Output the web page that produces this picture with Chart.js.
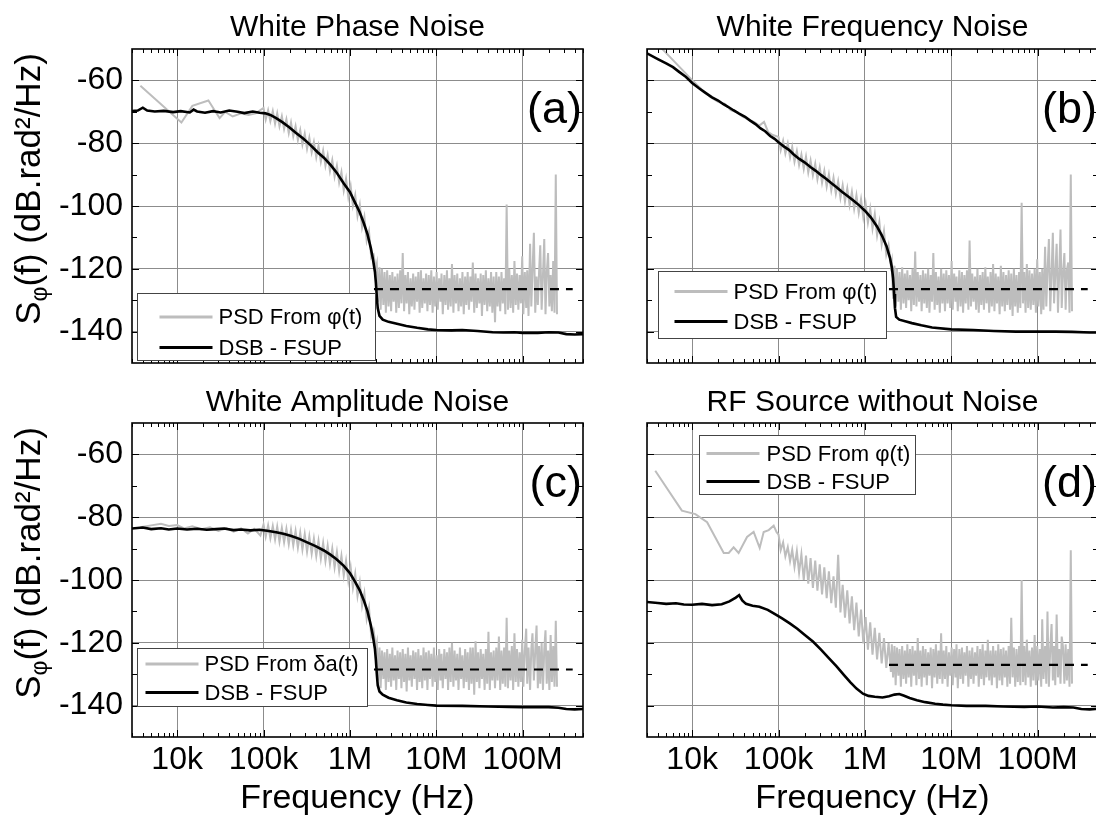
<!DOCTYPE html>
<html><head><meta charset="utf-8">
<script src="https://cdn.jsdelivr.net/npm/chart.js@4.4.1/dist/chart.umd.min.js"></script>
<style>
html,body{margin:0;padding:0;background:#fff;overflow:hidden;}
#wrap{position:relative;width:1096px;height:818px;overflow:hidden;background:#fff;}
canvas{position:absolute;display:block;}
</style></head><body>
<div id="wrap">
<canvas id="pa" width="600" height="380" style="left:0;top:0"></canvas>
<canvas id="pb" width="500" height="380" style="left:600px;top:0"></canvas>
<canvas id="pc" width="600" height="438" style="left:0;top:380px"></canvas>
<canvas id="pd" width="500" height="438" style="left:600px;top:380px"></canvas>
</div>
<script>
const FONT = '"Liberation Sans", Arial, Helvetica, sans-serif';
Chart.defaults.font.family = FONT;
Chart.defaults.color = '#000';

// ---- axes ----
const X_MIN = 3000, X_MAX = 5e8, Y_MIN = -150, Y_MAX = -50;
const xTickValues = [1e4, 1e5, 1e6, 1e7, 1e8];
const xTickLabels = ['10k', '100k', '1M', '10M', '100M'];
const yTickValues = [-140, -120, -100, -80, -60];
const yTickLabels = ['-140', '-120', '-100', '-80', '-60'];
const yTickMarks = [-140, -130, -120, -110, -100, -90, -80, -70, -60];
const xAxisTitle = 'Frequency (Hz)';
const panelTitles = ['White Phase Noise', 'White Frequency Noise', 'White Amplitude Noise', 'RF Source without Noise'];
const panelTags = ['(a)', '(b)', '(c)', '(d)'];
const legendPsd = ['PSD From φ(t)', 'PSD From φ(t)', 'PSD From δa(t)', 'PSD From φ(t)'];
const legendDsb = 'DSB - FSUP';

// ---- PSD sample grids ----
const midKHz = [100, 106, 113, 120, 128, 136, 144, 153, 163, 173,
  184, 196, 208, 221, 235, 250, 266, 282, 300, 319,
  339, 361, 383, 408, 433, 461, 490, 521, 553, 588,
  625, 665, 707, 751, 798, 849, 902, 959, 1020, 1084,
  1152, 1225, 1302, 1384, 1471, 1564, 1663, 1768, 1880, 2000];
const floorMHz = [2.05, 2.12, 2.2, 2.27, 2.35, 2.44, 2.52, 2.61, 2.7, 2.8,
  2.9, 3.0, 3.1, 3.21, 3.33, 3.44, 3.56, 3.69, 3.82, 3.95,
  4.09, 4.24, 4.39, 4.54, 4.7, 4.87, 5.04, 5.21, 5.4, 5.59,
  5.78, 5.99, 6.2, 6.42, 6.64, 6.88, 7.12, 7.37, 7.63, 7.9,
  8.18, 8.46, 8.76, 9.07, 9.39, 9.72, 10.1, 10.4, 10.8, 11.2,
  11.5, 11.9, 12.4, 12.8, 13.3, 13.7, 14.2, 14.7, 15.2, 15.8,
  16.3, 16.9, 17.5, 18.1, 18.8, 19.4, 20.1, 20.8, 21.6, 22.3,
  23.1, 23.9, 24.8, 25.6, 26.5, 27.5, 28.5, 29.5, 30.5, 31.6,
  32.7, 33.8, 35.0, 36.3, 37.5, 38.9, 40.2, 41.7, 43.1, 44.6,
  46.2, 47.9, 49.5, 51.3, 53.1, 55.0, 56.9, 58.9, 61.0, 63.1,
  65.3, 67.6, 70.0, 72.5, 75.0, 77.7, 80.4, 83.2, 86.1, 89.2,
  92.3, 95.5, 98.9, 102, 106, 110, 113, 117, 122, 126,
  130, 135, 140, 145, 150, 155, 160, 166, 172, 178,
  184, 190, 197, 204, 211, 218, 226, 234, 242, 250];

// ---- (a) White Phase Noise ----
const aLowKHz = [3.75, 11.2, 15, 23, 27, 31, 36, 44, 55, 67, 81];
const aLowDb = [-61.7, -73.4, -68.1, -66.4, -69.4, -72, -70, -71.5, -70.5, -71, -70.5];
const aMidDb = [-68.8, -72.5, -69.5, -73, -69.8, -73.8, -70.5, -74.6, -71.4, -75.5,
  -72.4, -76.8, -73.4, -77.8, -74.6, -79, -75.8, -80.4, -77, -81.8,
  -78.2, -82.9, -79.6, -84.5, -80.9, -85.9, -82.3, -87.2, -83.8, -88.9,
  -85.4, -90.7, -87.2, -92.6, -89.2, -95.1, -91.3, -97.2, -93.6, -99.9,
  -96.5, -103.2, -99.6, -106.8, -103.4, -111, -108, -116.5, -115.5, -120];
const aFloorDb = [-118.5, -130.5, -119.5, -133, -120, -131.5, -121, -134, -120.5, -132,
  -122, -133.5, -121, -130.5, -122.5, -134, -121.5, -132.5, -120.5, -131,
  -115, -133.5, -122, -131, -121, -134.5, -123, -132, -121.5, -133,
  -122.5, -130.5, -121, -134, -120.5, -132.5, -123, -131, -121.5, -133.5,
  -122, -131.5, -120.5, -134, -122.5, -132, -121, -133, -123, -130.5,
  -121.5, -134.5, -122, -131.5, -120.5, -133, -123, -132, -118.5, -134,
  -122, -131, -121.5, -133.5, -123, -132, -121, -134.5, -122.5, -131.5,
  -121, -133, -122.5, -130.5, -118, -134, -121.5, -132.5, -123, -131,
  -121.5, -135, -122, -131.5, -120.5, -133.5, -123, -132, -121, -134,
  -122.5, -137, -121, -132, -122.5, -133.5, -121, -131, -123, -134.5,
  -99.5, -133, -120, -132.5, -122, -134, -117.5, -131.5, -121.5, -133,
  -122, -131, -116, -134.5, -121, -132.5, -120.5, -135, -112, -132,
  -121, -108.5, -134, -122.5, -131.5, -121, -112.5, -133, -122, -110.5,
  -134.5, -121.5, -115, -132, -122, -133.5, -117.5, -134, -90, -134.5];
const aDsbKHz = [3, 3.5, 4, 4.5, 5.5, 7, 9, 11, 14, 15.5, 17, 21, 26, 32, 40, 50, 60, 75, 90, 105,
  120, 140, 165, 200, 240, 290, 350, 420, 500, 600, 700, 850, 1000, 1150, 1300, 1450, 1600, 1750, 1850, 1950,
  2000, 2050, 2100, 2200, 2400, 2800, 3500, 4500, 6000, 8000, 10000, 15000, 20000, 30000, 45000, 60000, 80000, 100000, 150000, 200000,
  260000, 320000, 400000, 500000];
const aDsbDb = [-69.8, -69.6, -68.7, -69.6, -69.9, -69.7, -70.1, -69.8, -70.2, -69.3, -69.9, -70.3, -69.8, -70.2, -69.6, -70, -70.4, -69.9, -70.3, -70.5,
  -71, -72, -73.3, -75, -76.8, -78.6, -80.6, -82.8, -84.6, -87, -89.3, -92.8, -95.5, -99, -102, -105.5, -109, -113.5, -117, -121,
  -124.5, -129, -132.5, -135, -136.2, -136.9, -137.5, -138.2, -138.8, -139.3, -139.5, -139.6, -139.5, -139.8, -140.2, -140.3, -140.2, -140.4, -140.4, -140.2,
  -140.3, -140.8, -140.9, -140.8];

// ---- (b) White Frequency Noise ----
const bLowKHz = [3.75, 10, 13, 16, 20, 24, 28, 33, 38, 44, 52, 60, 68, 76, 86];
const bLowDb = [-47.7, -59.9, -63, -65.2, -66.8, -67.5, -69.5, -70.2, -71.5, -72.4, -73.2, -74.4, -73.2, -76.5, -77.4];
const bMidDb = [-78, -82.2, -79.2, -83.3, -80.1, -84.5, -81.2, -85.9, -82.5, -87,
  -83.6, -88.2, -84.3, -89.3, -85.5, -90.2, -86.6, -91.5, -87.7, -92.6,
  -88.8, -93.8, -89.9, -95, -91, -96.1, -92.2, -97.4, -93.4, -98.6,
  -94.4, -99.7, -95.5, -100.9, -96.6, -102.2, -97.8, -103.6, -99.2, -105.3,
  -100.8, -107.2, -102.6, -109.4, -105.1, -112.3, -108, -115.5, -112.5, -119];
const bFloorDb = [-117.5, -129.5, -119, -132, -120, -130.5, -121, -133, -119.5, -131,
  -121.5, -132.5, -120.5, -130, -122, -133.5, -120, -131.5, -114.5, -132,
  -121, -130.5, -122, -133.5, -120.5, -131, -121.5, -132.5, -120, -134,
  -122, -130.5, -115, -133, -121, -131.5, -122.5, -134, -120, -131,
  -121.5, -133.5, -120.5, -131, -122, -132.5, -117.5, -133, -121.5, -130.5,
  -122.5, -133.5, -120.5, -132, -121, -134, -122, -131, -120.5, -133,
  -111, -132, -121.5, -130.5, -122.5, -133, -120, -134, -122, -131.5,
  -121, -133, -119.5, -131, -122.5, -134, -121, -132, -118.5, -133.5,
  -121.5, -131, -122.5, -134.5, -119, -132, -121, -133.5, -122, -131.5,
  -120.5, -133, -121.5, -135, -120, -132, -122, -134, -121, -132.5,
  -99, -131, -121, -134, -118.5, -132.5, -120.5, -133, -121.5, -131.5,
  -120, -134, -117, -132, -121, -134.5, -120, -133, -113, -132,
  -121, -110.5, -133.5, -121.5, -108.5, -131, -122, -112, -134, -121,
  -107.5, -132.5, -121, -115, -133, -120.5, -118, -134, -90, -133.5];
const bDsbKHz = [3, 4, 5, 6, 7, 8.5, 10, 12, 14, 17, 20, 23, 26, 30, 35, 41, 47, 54, 62, 70,
  80, 90, 100, 115, 132, 150, 174, 200, 234, 270, 309, 355, 407, 470, 537, 630, 741, 860, 1000, 1170,
  1380, 1580, 1780, 1950, 2050, 2120, 2180, 2230, 2300, 2500, 3000, 3500, 4500, 6000, 10000, 18000, 31000, 56000, 100000, 160000,
  250000, 400000, 500000];
const bDsbDb = [-51.4, -53.2, -54.6, -55.8, -57.2, -58.9, -60.8, -62.5, -63.8, -65.4, -66.4, -67.6, -68.4, -69.5, -70.6, -71.6, -72.8, -73.9, -75.3, -76.2,
  -77.7, -78.6, -79.7, -81, -82.1, -83.6, -85, -86.1, -87.6, -88.8, -90.1, -91.3, -92.7, -94, -95.4, -96.8, -98.3, -99.8, -101.5, -103.6,
  -106.5, -109.5, -112.8, -116.5, -119.5, -123, -128, -132.5, -135.3, -136.2, -136.8, -137.3, -138, -138.7, -139.3, -139.5, -139.8, -140, -140, -140,
  -140.1, -140.3, -140.3];

// ---- (c) White Amplitude Noise ----
const cLowKHz = [3.75, 5, 6.5, 8, 10, 12, 15, 19, 24, 30, 37, 45, 55, 66, 78, 92];
const cLowDb = [-83.2, -82.6, -82.1, -82.8, -82.5, -83.6, -82.9, -83.8, -83.2, -84.4, -83.5, -84.6, -83.6, -85.2, -83.7, -85.8];
const cMidDb = [-82.3, -86.2, -82.6, -86.7, -82.8, -87.1, -83, -87.8, -83.4, -88,
  -83.7, -88.6, -84, -89, -84.4, -89.7, -84.9, -90.3, -85.4, -91,
  -86.1, -91.6, -86.8, -92.4, -87.5, -93.2, -88.2, -94, -89.1, -94.9,
  -90, -96, -91.1, -97.2, -92.3, -98.6, -93.9, -100.3, -95.8, -102.5,
  -98, -105.1, -100.7, -108.2, -104.2, -112.4, -108.8, -118, -116, -121.5];
const cFloorDb = [-120, -132, -121.5, -134.5, -122.5, -131.5, -123, -135, -122, -132.5,
  -123.5, -134, -121.5, -132, -124, -135, -122.5, -131.5, -123, -134.5,
  -122, -132.5, -123.5, -135.5, -121.5, -132, -124, -134, -122.5, -131.5,
  -123, -135, -122, -132.5, -124, -134.5, -121.5, -132, -123, -135,
  -122.5, -131.5, -123.5, -134, -121.5, -132.5, -124, -135, -122, -132,
  -123.5, -134.5, -122, -131.5, -123, -135, -121.5, -132.5, -120, -134,
  -122.5, -132, -123.5, -135, -121.5, -131.5, -124, -134.5, -122, -132.5,
  -123, -135, -121.5, -133, -121.5, -136.5, -119.5, -132.5, -123, -134.5,
  -122, -131.5, -123.5, -135, -122, -133, -116.5, -135, -123, -132,
  -122.5, -134.5, -121.5, -132, -118, -135, -122.5, -133, -121.5, -134,
  -112, -134.5, -122.5, -132, -121, -135, -117, -132.5, -122, -134,
  -123, -132.5, -119, -134, -122.5, -115.5, -133, -121.5, -135, -122,
  -117, -132, -122.5, -114.5, -134.5, -121, -133, -120, -135, -122,
  -116, -133, -122.5, -135, -117.5, -132.5, -121, -134, -113, -134];
const cDsbKHz = [3, 4, 5, 6.5, 8, 10, 13, 17, 22, 28, 35, 45, 55, 70, 90, 110, 140, 170, 210, 260,
  320, 400, 500, 600, 700, 850, 1000, 1150, 1300, 1450, 1600, 1750, 1850, 1950, 2000, 2050, 2100, 2200, 2400, 2800,
  3500, 4500, 6000, 8000, 10000, 20000, 40000, 70000, 100000, 150000, 200000, 260000, 320000, 400000, 500000];
const cDsbDb = [-83.6, -83.3, -83.8, -83.5, -83.9, -83.6, -83.9, -83.7, -84, -83.8, -83.6, -84.1, -83.9, -84.2, -84, -84.3, -84.8, -85.3, -86, -86.9,
  -88, -89.2, -90.6, -92, -93.4, -95.5, -97.8, -100.6, -103.3, -106.5, -110, -114.5, -118, -122, -125.5, -130, -133.5, -135.5, -136.5, -137.5,
  -138.3, -139, -139.5, -139.8, -140, -140.1, -140.3, -140.4, -140.5, -140.5, -140.5, -140.7, -141.1, -141.2, -141.1];

// ---- (d) RF Source without Noise ----
const dLowKHz = [3.74, 7.6, 10.9, 14.9, 23.2, 26.5, 30.2, 34.5, 43.2, 51.5, 60.5, 67.3, 76.9, 87.9, 95];
const dLowDb = [-65.2, -77.9, -79, -81.6, -91.4, -91.4, -89.6, -91.4, -86.3, -84.7, -89.8, -84.7, -84.1, -82.7, -84.8];
const dMidDb = [-85.5, -90.5, -88, -92.5, -89.5, -94, -90.4, -95.8, -90.8, -97.6,
  -91.8, -100, -92.2, -101.2, -93, -102.5, -93.8, -103.4, -95, -104.6,
  -96, -105.8, -97.2, -107.4, -98.8, -108.8, -92, -110.3, -101.5, -112,
  -103.3, -113.8, -105.2, -116, -107.2, -118, -109.4, -120.2, -111.8, -122.2,
  -113.5, -123.8, -115.2, -125.3, -116.8, -126.6, -118.5, -128, -120, -129.3];
const dFloorDb = [-120.5, -131, -121, -133.5, -121.5, -130.5, -122, -134, -121, -131.5,
  -122.5, -133, -120.5, -131, -122, -134, -121, -130.5, -122.5, -133.5,
  -118.5, -131.5, -122.5, -134, -121, -131, -122, -133.5, -123, -130.5,
  -121.5, -134.5, -122, -131, -120.5, -133, -122.5, -131.5, -117, -133,
  -122.5, -131.5, -121, -134, -123, -130.5, -121.5, -133.5, -122, -131,
  -120.5, -134.5, -122, -131.5, -121.5, -133, -123, -130.5, -121, -134,
  -122.5, -131.5, -121.5, -133, -123, -130.5, -121, -134, -122, -131.5,
  -120.5, -133.5, -122.5, -131, -119, -132, -122.5, -133.5, -121, -131,
  -122.5, -134.5, -120.5, -132, -122, -133.5, -121.5, -131, -122.5, -134,
  -121, -133, -112, -131, -121.5, -134, -122, -132.5, -121, -133.5,
  -100, -132.5, -121, -133.5, -119, -131, -122.5, -134, -121.5, -132,
  -117.5, -133.5, -121, -132, -122, -134, -112.5, -131.5, -121, -133,
  -110, -134, -122, -114, -132, -121, -133.5, -111, -131, -122,
  -133, -118, -121.5, -133, -120.5, -132, -122, -134, -90.5, -133];
const dDsbKHz = [3, 4, 5, 6.5, 8, 10, 13, 17, 22, 27, 32, 35, 38, 42, 50, 60, 75, 90, 110, 135,
  165, 200, 250, 310, 380, 470, 570, 680, 800, 950, 1100, 1300, 1600, 1900, 2200, 2500, 2800, 3300, 4000, 5000,
  6500, 8000, 10000, 15000, 25000, 40000, 70000, 100000, 150000, 200000, 260000, 320000, 400000, 500000];
const dDsbDb = [-107, -107.3, -107.6, -107.4, -107.8, -107.9, -107.6, -108, -107.7, -106.8, -105.6, -104.8, -106.5, -107.6, -108.2, -108.5, -109.5, -110.8, -112.2, -113.8,
  -115.5, -117.4, -119.6, -122.2, -124.8, -127.5, -130.2, -132.6, -134.6, -136.2, -136.9, -137.2, -137.4, -137, -136.5, -136.3, -136.8, -137.6, -138.3, -138.9,
  -139.4, -139.7, -139.9, -140.1, -140.1, -140.3, -140.4, -140.3, -140.6, -140.5, -140.6, -141.1, -141.2, -141];

// ---- dashed reference level ----
const dashHz = [1.9e6, 3.8e8];
const dashLevelDb = [-126.5, -126.5, -128.5, -127];

// ---- build helpers ----
function pts(fs, vs, mult) {
  const n = Math.min(fs.length, vs.length);
  const out = [];
  for (let i = 0; i < n; i++) out.push({x: fs[i] * mult, y: vs[i]});
  return out;
}
const xMarks = [];
[1e3, 1e4, 1e5, 1e6, 1e7, 1e8].forEach(d => {
  for (let m = 1; m <= 9; m++) {
    const v = m * d;
    if (v >= X_MIN && v <= X_MAX) xMarks.push({v, major: m === 1});
  }
});

function makePanel(id, idx, p) {
  const plug = {
    id: 'deco' + idx,
    afterDatasetsDraw(chart) {
      const {ctx, chartArea: a, scales} = chart;
      const xs = scales.x, ys = scales.y;
      ctx.save();
      ctx.setLineDash([]);
      ctx.strokeStyle = '#000';
      ctx.lineWidth = 1;
      ctx.beginPath();
      yTickMarks.forEach(v => {
        const py = Math.round(ys.getPixelForValue(v)) + 0.5;
        const len = yTickValues.includes(v) ? 7 : 5;
        ctx.moveTo(a.left, py); ctx.lineTo(a.left + len, py);
        ctx.moveTo(a.right, py); ctx.lineTo(a.right - len, py);
      });
      xMarks.forEach(m => {
        const px = Math.round(xs.getPixelForValue(m.v)) + 0.5;
        const len = m.major ? 7 : 4;
        ctx.moveTo(px, a.bottom); ctx.lineTo(px, a.bottom - len);
        ctx.moveTo(px, a.top); ctx.lineTo(px, a.top + len);
      });
      ctx.stroke();
      ctx.lineWidth = 1.6;
      ctx.strokeRect(a.left, a.top, a.right - a.left, a.bottom - a.top);

      // legend
      const L = p.legend;
      const bx = Math.round(a.left + L.dx) + 0.5, by = Math.round(a.top + L.dy) + 0.5;
      ctx.fillStyle = '#fff';
      ctx.fillRect(bx, by, L.w, L.h);
      ctx.strokeStyle = '#444';
      ctx.lineWidth = 1;
      ctx.strokeRect(bx, by, L.w, L.h);
      const ds = chart.data.datasets;
      const rows = [[ds[0].borderColor, legendPsd[idx], L.r1], [ds[1].borderColor, legendDsb, L.r2]];
      ctx.font = '22px ' + FONT;
      ctx.textBaseline = 'middle';
      ctx.textAlign = 'left';
      rows.forEach(([col, txt, r]) => {
        ctx.strokeStyle = col; ctx.lineWidth = 3;
        ctx.beginPath(); ctx.moveTo(bx + L.l0, by + r); ctx.lineTo(bx + L.l1, by + r); ctx.stroke();
        ctx.fillStyle = '#000';
        ctx.fillText(txt, bx + L.tx, by + r + 1);
      });

      // panel tag
      ctx.font = '45px ' + FONT;
      ctx.textAlign = 'right';
      ctx.textBaseline = 'alphabetic';
      ctx.fillStyle = '#000';
      ctx.fillText(panelTags[idx], a.right - 1, a.top + 73.5);
      ctx.restore();
    },
    afterDraw(chart) {
      if (!p.showY) return;
      const {ctx, chartArea: a} = chart;
      ctx.save();
      ctx.translate(40, a.top + 140);
      ctx.rotate(-Math.PI / 2);
      const segs = [['S', 35, 0], ['φ', 23, 7], ['(f) (dB.rad²/Hz)', 35, 0]];
      let total = 0;
      segs.forEach(s => { ctx.font = s[1] + 'px ' + FONT; s.push(ctx.measureText(s[0]).width); total += s[3]; });
      let x = -total / 2;
      ctx.fillStyle = '#000';
      ctx.textAlign = 'left';
      ctx.textBaseline = 'alphabetic';
      segs.forEach(s => { ctx.font = s[1] + 'px ' + FONT; ctx.fillText(s[0], x, s[2]); x += s[3]; });
      ctx.restore();
    }
  };

  const psd = pts(p.lowKHz, p.lowDb, 1e3).concat(pts(midKHz, p.midDb, 1e3), pts(floorMHz, p.floorDb, 1e6));
  return new Chart(document.getElementById(id), {
    type: 'line',
    data: {
      datasets: [
        {data: psd, order: 3, borderColor: '#bdbdbd', borderWidth: 2, pointRadius: 0, tension: 0, clip: 0},
        {data: pts(p.dsbKHz, p.dsbDb, 1e3), order: 2,
         borderColor: '#000', borderWidth: 2.6, pointRadius: 0, tension: 0, clip: 0},
        {data: dashHz.map(f => ({x: f, y: dashLevelDb[idx]})), order: 1,
         borderColor: '#000', borderWidth: 2.2, borderDash: [9, 7], pointRadius: 0, tension: 0, clip: 0}
      ]
    },
    options: {
      responsive: false, animation: false, devicePixelRatio: 1,
      layout: {padding: {left: 0, right: p.padRight, top: 0, bottom: 0}},
      plugins: {
        legend: {display: false}, tooltip: {enabled: false},
        title: {display: true, text: panelTitles[idx], fullSize: false, color: '#000',
          font: {size: 30, weight: 'normal', lineHeight: 1.2}, padding: p.titlePad}
      },
      scales: {
        x: {
          type: 'logarithmic', min: X_MIN, max: X_MAX,
          afterBuildTicks: s => { s.ticks = xTickValues.map(v => ({value: v})); },
          afterFit: s => { s.height = p.xh; s.paddingLeft = 0; s.paddingRight = 0; },
          grid: {color: '#8c8c8c', lineWidth: 1, drawTicks: false},
          border: {display: false},
          ticks: {display: p.showX, autoSkip: false, maxRotation: 0, padding: 4, color: '#000',
            font: {size: 32, lineHeight: 1.2},
            callback: v => { const i = xTickValues.indexOf(v); return i >= 0 ? xTickLabels[i] : ''; }},
          title: {display: p.showX, text: xAxisTitle, color: '#000', font: {size: 34, lineHeight: 1}, padding: {top: 0, bottom: 2}}
        },
        y: {
          min: Y_MIN, max: Y_MAX,
          afterBuildTicks: s => { s.ticks = yTickValues.map(v => ({value: v})); },
          afterFit: s => { s.width = p.yw; s.paddingTop = 0; s.paddingBottom = 0; },
          grid: {color: '#8c8c8c', lineWidth: 1, drawTicks: false},
          border: {display: false},
          ticks: {display: p.showY, padding: 9, color: '#000', font: {size: 32},
            callback: v => { const i = yTickValues.indexOf(v); return i >= 0 ? yTickLabels[i] : ''; }}
        }
      }
    },
    plugins: [plug]
  });
}

makePanel('pa', 0, {lowKHz: aLowKHz, lowDb: aLowDb, midDb: aMidDb, floorDb: aFloorDb, dsbKHz: aDsbKHz, dsbDb: aDsbDb,
  showX: false, showY: true, yw: 132, xh: 17, padRight: 17, titlePad: {top: 10, bottom: 3},
  legend: {dx: 5, dy: 244, w: 238, h: 67, r1: 23.5, r2: 54, l0: 22, l1: 75, tx: 81}});
makePanel('pb', 1, {lowKHz: bLowKHz, lowDb: bLowDb, midDb: bMidDb, floorDb: bFloorDb, dsbKHz: bDsbKHz, dsbDb: bDsbDb,
  showX: false, showY: false, yw: 47, xh: 17, padRight: 2, titlePad: {top: 10, bottom: 3},
  legend: {dx: 10.5, dy: 222, w: 228, h: 67, r1: 20, r2: 50, l0: 16, l1: 69, tx: 75}});
makePanel('pc', 2, {lowKHz: cLowKHz, lowDb: cLowDb, midDb: cMidDb, floorDb: cFloorDb, dsbKHz: cDsbKHz, dsbDb: cDsbDb,
  showX: true, showY: true, yw: 132, xh: 81, padRight: 17, titlePad: {top: 4.5, bottom: 2.5},
  legend: {dx: 5, dy: 225, w: 230, h: 58, r1: 15.5, r2: 44, l0: 8, l1: 61, tx: 67}});
makePanel('pd', 3, {lowKHz: dLowKHz, lowDb: dLowDb, midDb: dMidDb, floorDb: dFloorDb, dsbKHz: dDsbKHz, dsbDb: dDsbDb,
  showX: true, showY: false, yw: 47, xh: 81, padRight: 2, titlePad: {top: 4.5, bottom: 2.5},
  legend: {dx: 51.5, dy: 12, w: 216, h: 59, r1: 18, r2: 46, l0: 7, l1: 60, tx: 67}});
</script>
</body></html>
